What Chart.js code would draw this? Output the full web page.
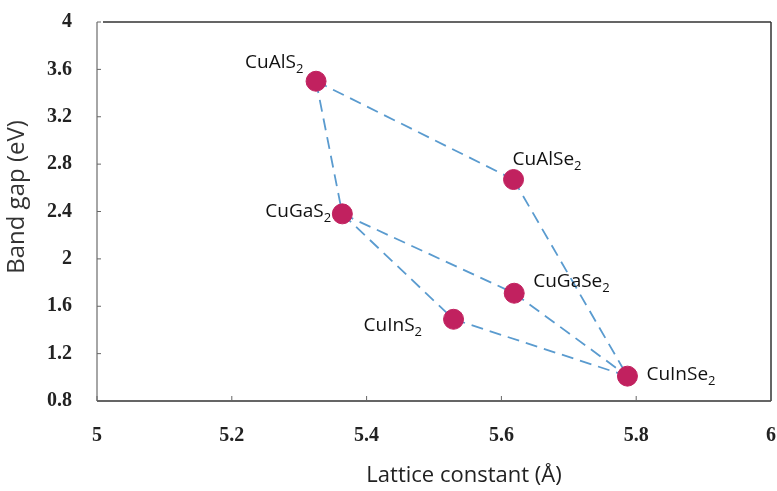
<!DOCTYPE html>
<html lang="en">
<head>
  <meta charset="UTF-8">
  <title>Band gap vs lattice constant</title>
  <script src="https://cdn.jsdelivr.net/npm/chart.js"></script>
  <style>
    html, body {
      margin: 0;
      padding: 0;
      overflow: hidden;
      background-color: #fff;
    }
    canvas {
      display: block;
    }
  </style>
</head>
<body>
  <canvas id="gapChart" width="777" height="491"></canvas>

  <script>
    // compounds (name split so the "2" can be drawn as subscript)
    const compounds = ['CuAlS', 'CuAlSe', 'CuGaS', 'CuGaSe', 'CuInS', 'CuInSe'];
    const latticeConstant = [5.325, 5.618, 5.364, 5.619, 5.529, 5.787];
    const bandGap = [3.50, 2.67, 2.38, 1.71, 1.49, 1.01];
    // dashed tie lines between compounds (indices)
    const tieLines = [[0, 1], [1, 5], [0, 2], [2, 3], [3, 5], [2, 4], [4, 5]];
    const xTicks = [5, 5.2, 5.4, 5.6, 5.8, 6];
    const yTicks = [0.8, 1.2, 1.6, 2, 2.4, 2.8, 3.2, 3.6, 4];

    // label position relative to its point: [dx to text start, dy to baseline]
    const labelPlace = [
      [-71, -13],
      [-1, -15],
      [-77, 3],
      [19, -6],
      [-90, 12],
      [19, 4]
    ];

    const lineDatasets = tieLines.map(([a, b]) => ({
      data: [
        { x: latticeConstant[a], y: bandGap[a] },
        { x: latticeConstant[b], y: bandGap[b] }
      ],
      showLine: true,
      borderColor: '#5a9bcf',
      borderWidth: 1.8,
      borderDash: [12, 7],
      pointRadius: 0,
      fill: false,
      order: 2
    }));

    const pointDataset = {
      data: latticeConstant.map((x, i) => ({ x: x, y: bandGap[i] })),
      showLine: false,
      backgroundColor: '#c1215f',
      borderColor: '#c1215f',
      pointRadius: 10,
      pointHoverRadius: 10,
      order: 1
    };

    const framePlugin = {
      id: 'frame',
      afterDraw(chart) {
        const ctx = chart.ctx;
        const { left, right, top, bottom } = chart.chartArea;
        const xs = chart.scales.x, ys = chart.scales.y;
        ctx.save();
        ctx.lineWidth = 1.5;
        ctx.strokeStyle = '#888';
        ctx.beginPath();
        ctx.moveTo(left, top); ctx.lineTo(left, bottom);
        ctx.stroke();
        ctx.strokeStyle = '#333';
        ctx.beginPath();
        ctx.moveTo(left, bottom); ctx.lineTo(right, bottom);
        ctx.moveTo(right, bottom); ctx.lineTo(right, top);
        ctx.moveTo(left + 6, top); ctx.lineTo(right, top);
        ctx.stroke();
        // inner tick marks
        ctx.lineWidth = 1;
        ctx.strokeStyle = '#666';
        ctx.beginPath();
        yTicks.forEach(v => {
          const py = ys.getPixelForValue(v);
          ctx.moveTo(left, py); ctx.lineTo(left + 4, py);
        });
        xTicks.forEach(v => {
          const px = xs.getPixelForValue(v);
          ctx.moveTo(px, bottom); ctx.lineTo(px, bottom - 5);
        });
        ctx.stroke();

        // axis titles
        ctx.fillStyle = '#222';
        ctx.textAlign = 'center';
        ctx.textBaseline = 'middle';
        ctx.font = '22px "Open Sans", sans-serif';
        ctx.fillText('Lattice constant (Å)', 464, 476);
        ctx.save();
        ctx.translate(17, 197);
        ctx.rotate(-Math.PI / 2);
        ctx.font = '24px "Open Sans", sans-serif';
        ctx.fillStyle = '#333';
        ctx.fillText('Band gap (eV)', 0, 0);
        ctx.restore();
        ctx.restore();
      }
    };

    const labelPlugin = {
      id: 'pointLabels',
      afterDatasetsDraw(chart) {
        const ctx = chart.ctx;
        const meta = chart.getDatasetMeta(chart.data.datasets.length - 1);
        ctx.save();
        ctx.fillStyle = '#111';
        ctx.textBaseline = 'alphabetic';
        ctx.textAlign = 'left';
        meta.data.forEach((pt, i) => {
          const [dx, dy] = labelPlace[i];
          const x = pt.x + dx, y = pt.y + dy;
          ctx.font = '19px "Open Sans", sans-serif';
          ctx.fillText(compounds[i], x, y);
          const w = ctx.measureText(compounds[i]).width;
          ctx.font = '13px "Open Sans", sans-serif';
          ctx.fillText('2', x + w, y + 5);
        });
        ctx.restore();
      }
    };

    const tickFont = { family: '"Liberation Serif", serif', size: 20, weight: 'bold' };

    new Chart(document.getElementById('gapChart'), {
      type: 'scatter',
      data: { datasets: [...lineDatasets, pointDataset] },
      options: {
        responsive: false,
        animation: false,
        events: [],
        layout: { autoPadding: false, padding: { top: 22, right: 6, left: 0, bottom: 0 } },
        plugins: {
          legend: { display: false },
          tooltip: { enabled: false }
        },
        scales: {
          x: {
            type: 'linear',
            min: 5,
            max: 6,
            afterBuildTicks: s => { s.ticks = xTicks.map(v => ({ value: v })); },
            afterFit: s => { s.height = 90; s.paddingLeft = 0; s.paddingRight = 0; },
            grid: { display: false },
            border: { display: false },
            ticks: {
              padding: 15,
              color: '#222',
              font: tickFont,
              maxRotation: 0,
              callback: v => v.toString()
            }
          },
          y: {
            type: 'linear',
            min: 0.8,
            max: 4,
            afterBuildTicks: s => { s.ticks = yTicks.map(v => ({ value: v })); },
            afterFit: s => { s.width = 97; s.paddingTop = 0; s.paddingBottom = 0; },
            grid: { display: false },
            border: { display: false },
            ticks: {
              padding: 17,
              color: '#222',
              font: tickFont,
              callback: v => v.toString()
            }
          }
        }
      },
      plugins: [framePlugin, labelPlugin]
    });
  </script>
</body>
</html>
